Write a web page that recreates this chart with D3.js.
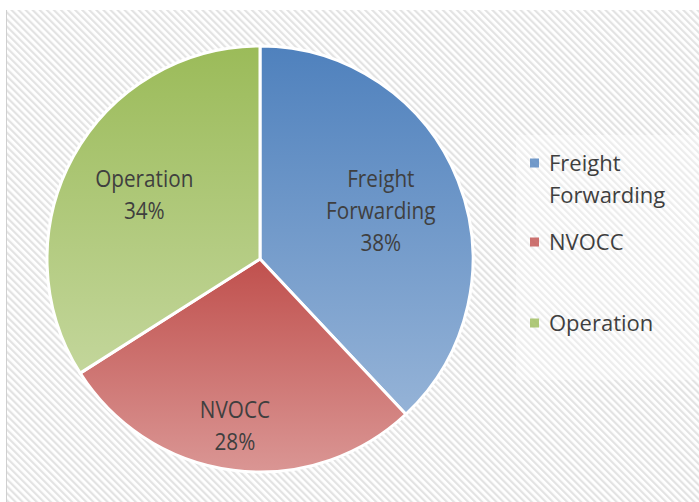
<!DOCTYPE html>
<html>
<head>
<meta charset="utf-8">
<script src="https://cdn.jsdelivr.net/npm/d3@7"></script>
<style>
  body { margin: 0; background: #fff; }
  text { font-family: "Open Sans", sans-serif; fill: #3f3f3f; }
</style>
</head>
<body>
<div id="chart"></div>
<script>
/* DATA */
const categories = ["Freight Forwarding", "NVOCC", "Operation"];
const values = [38, 28, 34];
const labelLines = [["Freight", "Forwarding"], ["NVOCC"], ["Operation"]];

/* CONSTANTS */
const width = 699, height = 502;
const cx = 260, cy = 259, radius = 213;
const topColors = ["#4f81bd", "#c0504d", "#9bbb59"];
const bottomColors = ["#95b3d7", "#da9694", "#c3d69b"];
const labelFactor = [0.61, 0.79, 0.62];

const svg = d3.select("#chart")
  .append("svg")
  .attr("width", width)
  .attr("height", height);

const defs = svg.append("defs");

// hatched background
const pattern = defs.append("pattern")
  .attr("id", "hatch")
  .attr("patternUnits", "userSpaceOnUse")
  .attr("width", 5)
  .attr("height", 5)
  .attr("patternTransform", "rotate(-45)");
pattern.append("rect").attr("width", 5).attr("height", 5).attr("fill", "#ffffff");
pattern.append("rect").attr("width", 2.2).attr("height", 5).attr("fill", "#e3e3e3");

svg.append("rect")
  .attr("x", 6).attr("y", 10)
  .attr("width", width - 6).attr("height", height - 10)
  .attr("fill", "url(#hatch)");
svg.append("line")
  .attr("x1", 6.5).attr("x2", 6.5).attr("y1", 10).attr("y2", height)
  .attr("stroke", "#d0d0d0");

// gradients per slice
categories.forEach((c, i) => {
  const g = defs.append("linearGradient")
    .attr("id", "grad" + i)
    .attr("x1", 0).attr("y1", 0).attr("x2", 0).attr("y2", 1);
  g.append("stop").attr("offset", "0%").attr("stop-color", topColors[i]);
  g.append("stop").attr("offset", "100%").attr("stop-color", bottomColors[i]);
});

const pie = d3.pie().sort(null).value(d => d.value);
const data = categories.map((c, i) => ({ name: c, value: values[i], idx: i }));
const arcs = pie(data);

const arc = d3.arc().innerRadius(0).outerRadius(radius);

const g = svg.append("g").attr("transform", `translate(${cx},${cy})`);

g.selectAll("path")
  .data(arcs)
  .join("path")
  .attr("d", arc)
  .attr("fill", d => `url(#grad${d.data.idx})`)
  .attr("stroke", "#ffffff")
  .attr("stroke-width", 3)
  .attr("stroke-linejoin", "round");

// slice labels
const total = d3.sum(values);
const lineH = 32;
arcs.forEach(d => {
  const i = d.data.idx;
  const r = radius * labelFactor[i];
  const la = d3.arc().innerRadius(r).outerRadius(r);
  const [lx, ly] = la.centroid(d);
  const lines = labelLines[i].concat([Math.round(d.data.value / total * 100) + "%"]);
  const t = g.append("text")
    .attr("transform", `translate(${i === 1 ? lx - 4 : lx},${ly}) scale(0.9,1)`)
    .attr("text-anchor", "middle")
    .attr("font-size", 23);
  lines.forEach((s, k) => {
    t.append("tspan")
      .attr("x", 0)
      .attr("y", (k - (lines.length - 1) / 2) * lineH + 8)
      .text(s);
  });
});

// legend
const legend = svg.append("g");
legend.append("rect")
  .attr("x", 516).attr("y", 135)
  .attr("width", 183).attr("height", 245)
  .attr("fill", "#ffffff").attr("opacity", 0.35);

const legendY = [163, 242, 323];
categories.forEach((c, i) => {
  const item = legend.append("g").attr("transform", `translate(530,${legendY[i]})`);
  item.append("rect")
    .attr("x", 0).attr("y", -4.5)
    .attr("width", 9).attr("height", 9)
    .attr("fill", topColors[i])
    .attr("opacity", 0.8);
  const t = item.append("text").attr("font-size", 22);
  labelLines[i].forEach((s, k) => {
    t.append("tspan").attr("x", 19).attr("y", 8 + k * 32).text(s);
  });
});
</script>
</body>
</html>
